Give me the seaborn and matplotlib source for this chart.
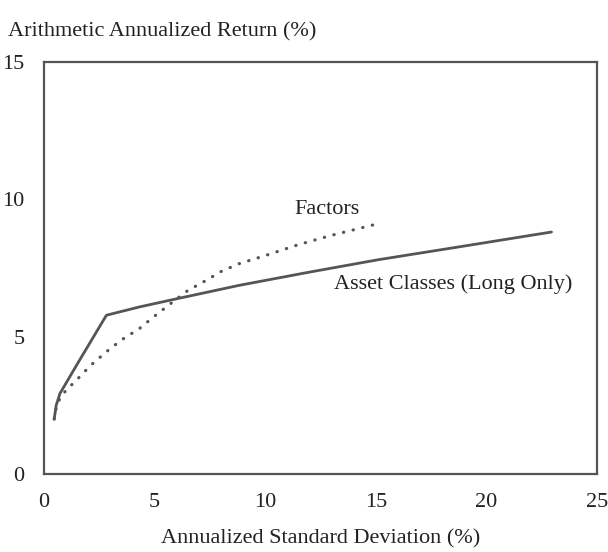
import matplotlib
matplotlib.use("Agg")
import matplotlib.pyplot as plt
import seaborn as sns
import pandas as pd

sns.set_theme(style="white")
plt.rcParams['font.family'] = ['Liberation Serif', 'DejaVu Serif']

asset_sd = [0.46, 0.55, 0.72, 1.5, 2.82, 4.3, 5.83, 8.83, 12.0, 15.1, 19.0, 22.94]
asset_ret = [2.0, 2.5, 2.93, 4.0, 5.78, 6.08, 6.35, 6.87, 7.35, 7.8, 8.3, 8.81]

factor_sd = [0.46, 0.55, 0.72, 1.0, 1.47, 2.1, 2.82, 3.5, 4.32, 5.0, 5.83, 6.5, 7.33, 8.0, 8.83,
             10.03, 11.5, 13.0, 15.14]
factor_ret = [2.0, 2.4, 2.76, 3.05, 3.42, 3.95, 4.45, 4.88, 5.3, 5.75, 6.27, 6.68, 7.05, 7.37, 7.66,
              7.96, 8.35, 8.69, 9.12]

x_ticks = [0, 5, 10, 15, 20, 25]
y_ticks = [0, 5, 10, 15]

df_a = pd.DataFrame({"sd": asset_sd, "ret": asset_ret})
df_f = pd.DataFrame({"sd": factor_sd, "ret": factor_ret})

fig = plt.figure(figsize=(6.08, 5.52), dpi=100)
ax = fig.add_axes([0.0724, 0.1413, 0.9096, 0.7464])

col = "#555555"
txt = "#222222"
fs = 16
sns.lineplot(data=df_a, x="sd", y="ret", ax=ax, color=col, lw=2.0, sort=False)
sns.lineplot(data=df_f, x="sd", y="ret", ax=ax, color=col, lw=2.3, sort=False,
             linestyle=(0, (0.1, 3.0)))
ax.lines[-1].set_dash_capstyle("round")

ax.set_xlim(0, 25)
ax.set_ylim(0, 15)
ax.set_xticks(x_ticks)
ax.set_yticks(y_ticks)
ax.tick_params(direction="in", length=5, width=1.2, color=col, labelsize=fs,
               labelcolor=txt)
ax.tick_params(axis="x", pad=14)
ax.tick_params(axis="y", pad=14)
for s in ax.spines.values():
    s.set_color(col)
    s.set_linewidth(1.6)

ax.set_xlabel("Annualized Standard Deviation (%)", fontsize=fs, color=txt, labelpad=12)
ax.set_ylabel("")
fig.text(8 / 608, 1 - 32 / 552, "Arithmetic Annualized Return (%)", fontsize=fs,
         color=txt, va="center", ha="left")

ax.text(12.8, 9.64, "Factors", fontsize=fs, color=txt, ha="center", va="center")
ax.text(18.5, 6.9, "Asset Classes (Long Only)", fontsize=fs, color=txt,
        ha="center", va="center")

fig.savefig("out.png", dpi=100)
